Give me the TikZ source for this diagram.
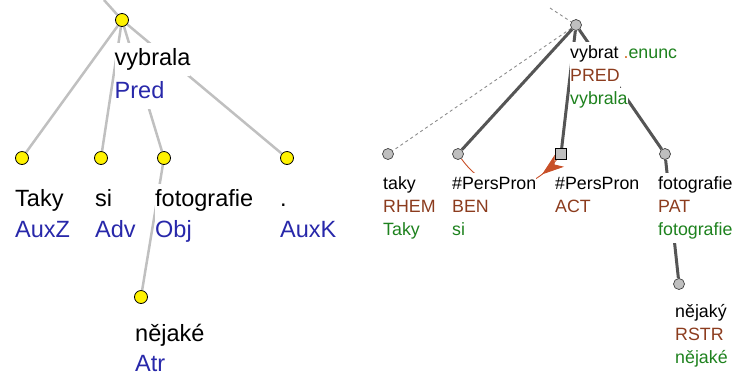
\documentclass[tikz,border=0pt]{standalone}
\usepackage{fontspec}
\setmainfont{Liberation Sans}
\usetikzlibrary{arrows.meta,decorations.markings}
\pgfdeclarelayer{edges}
\pgfdeclarelayer{labels}
\pgfsetlayers{edges,labels,main}
\definecolor{afun}{RGB}{40,40,170}
\definecolor{functor}{RGB}{140,60,30}
\definecolor{wform}{RGB}{30,130,30}
\definecolor{sentm}{RGB}{215,110,40}
\definecolor{aedgec}{RGB}{192,192,192}
\definecolor{tedgec}{RGB}{85,85,85}
\definecolor{corefc}{RGB}{200,80,40}
\begin{document}
\begin{tikzpicture}[x=1pt,y=-1pt,
    anode/.style={circle,draw=black,fill=yellow,line width=0.8pt,minimum size=13pt,inner sep=0pt},
    tnode/.style={circle,draw=black!75,fill=black!25,line width=0.7pt,minimum size=11pt,inner sep=0pt},
    tsq/.style={rectangle,draw=black,fill=black!25,line width=0.7pt,minimum size=11pt,inner sep=0pt},
    alab/.style={anchor=base west,fill=white,inner sep=0pt,text height=22pt,text depth=11pt,font=\fontsize{23.5}{28}\selectfont},
    tlab/.style={anchor=base west,fill=white,inner sep=0pt,text height=16pt,text depth=8pt,font=\fontsize{17.8}{21}\selectfont},
    aedge/.style={draw=aedgec,line width=2.5pt},
    tedge/.style={draw=tedgec,line width=3pt},
    hidden/.style={draw=black!45,line width=0.9pt,dash pattern=on 3pt off 3pt},
    coref/.style={draw=corefc,line width=0.9pt,postaction={decorate},
      decoration={markings,mark=at position 0.18 with {\arrow[corefc]{Stealth[length=22pt,width=15pt,inset=6pt]}}}}]
  \useasboundingbox (0,0) rectangle (736,376);
  % analytical tree
  \draw
    (122,20) node[anode] (a0){}
    (22,158) node[anode] (a1){}
    (101,158) node[anode] (a2){}
    (164,158) node[anode] (a3){}
    (287,158) node[anode] (a4){}
    (141,297) node[anode] (a5){};
  \coordinate (atop) at (104,0);
  % tectogrammatical tree
  \draw
    (576,25) node[tnode] (t0){}
    (388,154) node[tnode] (t1){}
    (458,154) node[tnode] (t2){}
    (561,154) node[tsq] (t3){}
    (665,154) node[tnode] (t4){}
    (679,284) node[tnode] (t5){};
  \coordinate (ttop) at (550,8);
  \begin{pgfonlayer}{edges}
    \draw[aedge] (atop) -- (a0);
    \draw[aedge] (a0) -- (a1);
    \draw[aedge] (a0) -- (a2);
    \draw[aedge] (a0) -- (a3);
    \draw[aedge] (a0) -- (a4);
    \draw[aedge] (a3) -- (a5);
    \draw[hidden] (ttop) -- (t0);
    \draw[hidden] (t0) -- (t1);
    \draw[tedge] (t0) -- (t2);
    \draw[tedge] (t0) -- (t3);
    \draw[tedge] (t0) -- (t4);
    \draw[tedge] (t4) -- (t5);
    \draw[coref] (t3) .. controls (528,196) and (488,196) .. (t2);
  \end{pgfonlayer}
  \begin{pgfonlayer}{labels}
    \node[alab] (wa0) at (114.5,65) {vybrala};
    \node[alab,text=afun] (fa0) at (114.5,98) {Pred};
    \node[alab] (wa1) at (15,206) {Taky};
    \node[alab,text=afun] (fa1) at (15,237) {AuxZ};
    \node[alab] (wa2) at (95,206) {si};
    \node[alab,text=afun] (fa2) at (95,237) {Adv};
    \node[alab] (wa3) at (155,206) {fotografie};
    \node[alab,text=afun] (fa3) at (155,237) {Obj};
    \node[alab] (wa4) at (280,206) {.};
    \node[alab,text=afun] (fa4) at (280,237) {AuxK};
    \node[alab] (wa5) at (135,341) {nějaké};
    \node[alab,text=afun,text depth=1pt] (fa5) at (135,371) {Atr};
    \node[tlab] (lt0) at (570,58) {vybrat \textcolor{sentm}{.}\textcolor{wform}{enunc}};
    \node[tlab,text=functor] (ft0) at (570,81) {PRED};
    \node[tlab,text=wform] (wt0) at (570,104) {vybrala};
    \node[tlab] (lt1) at (383,189) {taky};
    \node[tlab,text=functor] (ft1) at (383,212) {RHEM};
    \node[tlab,text=wform] (wt1) at (383,235) {Taky};
    \node[tlab] (lt2) at (452,189) {\#PersPron};
    \node[tlab,text=functor] (ft2) at (452,212) {BEN};
    \node[tlab,text=wform] (wt2) at (452,235) {si};
    \node[tlab] (lt3) at (555,189) {\#PersPron};
    \node[tlab,text=functor] (ft3) at (555,212) {ACT};
    \node[tlab] (lt4) at (658,189) {fotografie};
    \node[tlab,text=functor] (ft4) at (658,212) {PAT};
    \node[tlab,text=wform] (wt4) at (658,235) {fotografie};
    \node[tlab] (lt5) at (675,317) {nějaký};
    \node[tlab,text=functor] (ft5) at (675,340) {RSTR};
    \node[tlab,text=wform] (wt5) at (675,363) {nějaké};
  \end{pgfonlayer}
\end{tikzpicture}
\end{document}
